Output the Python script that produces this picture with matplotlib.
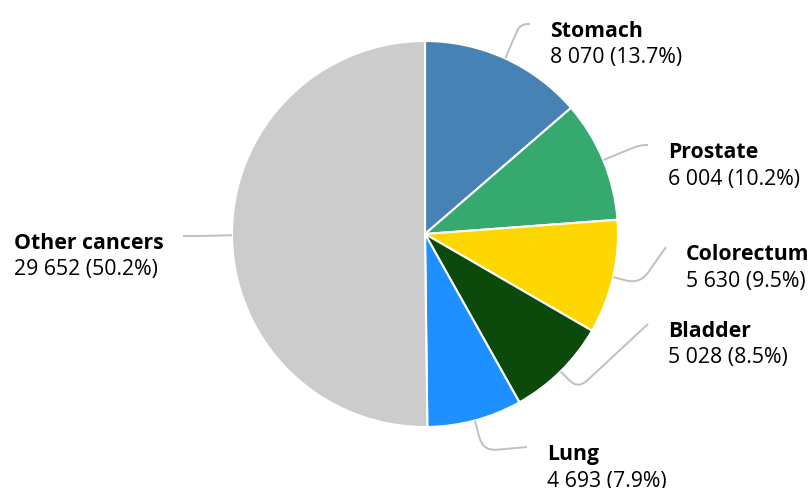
import matplotlib
matplotlib.use("Agg")
import matplotlib.pyplot as plt
from matplotlib.path import Path
from matplotlib.patches import PathPatch
import numpy as np

plt.rcParams['font.family'] = ['Open Sans', 'Noto Sans', 'DejaVu Sans']

# data
cancers = ["Stomach", "Prostate", "Colorectum", "Bladder", "Lung", "Other cancers"]
cases = [8070, 6004, 5630, 5028, 4693, 29652]
colors = ["#4682b4", "#36a96e", "#ffd700", "#0b4a0b", "#1e90ff", "#cccccc"]

# label layout (pixel coords): corner of connector, end of connector
corners = [(520, 25), (640, 146), (640, 285), (578, 390), (483, 452), (205, 237)]
ends = [(530, 25), (648, 146), (666, 248), (648, 325), (527, 448), (183, 237)]

W, H = 811, 489
cx, cy, R = 425, 235, 193

fig = plt.figure(figsize=(W / 100, H / 100), dpi=100)
ax = fig.add_axes([0, 0, 1, 1])

# y axis points down, so counterclockwise in data = clockwise on screen
ax.pie(cases, colors=colors, startangle=-90, counterclock=True,
       center=(cx, cy), radius=R,
       wedgeprops=dict(edgecolor="white", linewidth=1.5))
ax.set_xlim(0, W)
ax.set_ylim(H, 0)
ax.set_aspect("equal")
ax.axis("off")


def connector(p0, c, p1, rad=14):
    p0, c, p1 = np.array(p0, float), np.array(c, float), np.array(p1, float)
    d0 = np.linalg.norm(c - p0)
    d1 = np.linalg.norm(p1 - c)
    r = min(rad, d0 / 2, d1 * 0.8)
    a = c + (p0 - c) / max(d0, 1e-9) * r
    b = c + (p1 - c) / max(d1, 1e-9) * min(r, d1)
    verts = [p0, a, c, b, p1]
    codes = [Path.MOVETO, Path.LINETO, Path.CURVE3, Path.CURVE3, Path.LINETO]
    return PathPatch(Path(verts, codes), fill=False, edgecolor="#c0c0c0", lw=1.4)


total = sum(cases)
cum = np.cumsum([0] + cases)
for i, name in enumerate(cancers):
    mid = -90 + (cum[i] + cum[i + 1]) / 2 / total * 360
    ex = cx + R * np.cos(np.radians(mid))
    ey = cy + R * np.sin(np.radians(mid))
    ax.add_patch(connector((ex, ey), corners[i], ends[i]))

    val = f"{cases[i]:,}".replace(",", " ") + f" ({cases[i] / total * 100:.1f}%)"
    lx, ly = ends[i]
    if lx < cx:
        tx = 14
    else:
        tx = lx + 20
    ax.text(tx, ly + 12, name, fontsize=15.3, fontweight="bold", ha="left", va="baseline", color="black")
    ax.text(tx, ly + 38.5, val, fontsize=15.3, ha="left", va="baseline", color="black")

fig.savefig("out.png", dpi=100)
